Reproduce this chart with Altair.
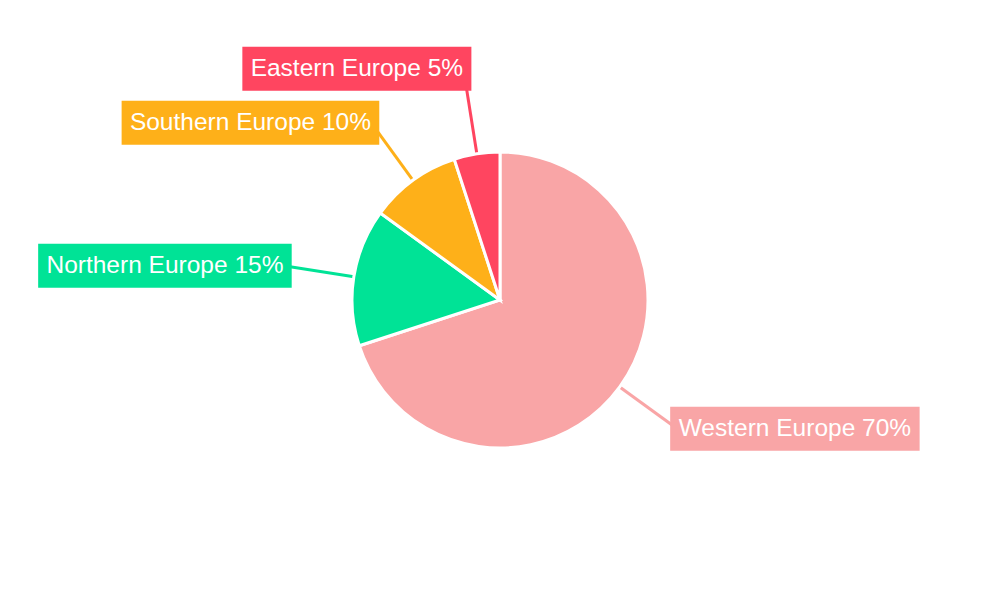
import math
import altair as alt
import pandas as pd

# ---- data ----
regions = ["Western Europe", "Northern Europe", "Southern Europe", "Eastern Europe"]
shares = [70, 15, 10, 5]
colors = ["#F9A5A6", "#00E396", "#FEB019", "#FF4560"]

# ---- layout constants (style, not data) ----
W, H = 984, 584
R = 148          # pie radius
R_LINE0 = 148    # leader line start
R_ANCHOR = 219   # leader line end / label anchor
FONT = 24.5
PADX, BOX_H = 8.3, 44
MIN_GAP = 54     # min vertical distance between label centres

# Arial / Liberation Sans advance widths (per 1000 em)
AW = {" ": 278, "%": 889, "E": 667, "W": 944, "N": 722, "S": 667,
      "a": 556, "s": 500, "t": 278, "e": 556, "r": 333, "n": 556,
      "u": 556, "o": 556, "p": 556, "h": 556}
def text_width(s):
    return sum(AW.get(c, 556) for c in s) * FONT / 1000.0

total = sum(shares)
rows = []
cum = 0
for name, v, col in zip(regions, shares, colors):
    mid = (cum + v / 2) / total * 2 * math.pi
    cum += v
    label = f"{name} {round(v / total * 100)}%"
    sx, cx = math.sin(mid), math.cos(mid)
    rows.append(dict(region=name, value=v, label=label, mid=mid,
                     side=1 if sx >= 0 else -1,
                     ax=R_ANCHOR * sx, ay=R_ANCHOR * cx,
                     lx0=R_LINE0 * sx, ly0=R_LINE0 * cx))

# simple vertical collision avoidance per side (push labels apart along their ray)
for side in (-1, 1):
    grp = [r for r in rows if r["side"] == side]
    grp.sort(key=lambda r: -r["ay"])  # top first (y up)
    for i in range(len(grp) - 2, -1, -1):
        lower = grp[i + 1]
        upper = grp[i]
        if upper["ay"] - lower["ay"] < MIN_GAP:
            newy = lower["ay"] + MIN_GAP
            t = newy / math.cos(upper["mid"])
            upper["ay"] = newy
            upper["ax"] = t * math.sin(upper["mid"])

for r in rows:
    tw = text_width(r["label"])
    if r["side"] < 0:
        r["bx2"] = r["ax"] + 8
        r["bx1"] = r["bx2"] - (tw + 2 * PADX)
    else:
        r["bx1"] = r["ax"] - 7
        r["bx2"] = r["bx1"] + (tw + 2 * PADX)
    r["by1"] = r["ay"] - BOX_H / 2
    r["by2"] = r["ay"] + BOX_H / 2
    r["tx"] = (r["bx1"] + r["bx2"]) / 2

df = pd.DataFrame(rows)
df["order"] = range(len(df))

xs = alt.Scale(domain=[-W / 2, W / 2], range=[0, W])
ys = alt.Scale(domain=[-H / 2, H / 2], range=[H, 0])
col_scale = alt.Scale(domain=regions, range=colors)

base = alt.Chart(df)

pie = base.mark_arc(radius=R, stroke="white", strokeWidth=3).encode(
    theta=alt.Theta("value:Q", stack=True),
    order=alt.Order("order:Q"),
    color=alt.Color("region:N", scale=col_scale, legend=None),
)

lines = base.mark_rule(strokeWidth=3).encode(
    x=alt.X("lx0:Q", scale=xs, axis=None),
    y=alt.Y("ly0:Q", scale=ys, axis=None),
    x2="ax:Q",
    y2="ay:Q",
    color=alt.Color("region:N", scale=col_scale, legend=None),
)

boxes = base.mark_rect().encode(
    x=alt.X("bx1:Q", scale=xs, axis=None),
    x2="bx2:Q",
    y=alt.Y("by1:Q", scale=ys, axis=None),
    y2="by2:Q",
    color=alt.Color("region:N", scale=col_scale, legend=None),
)

texts = base.mark_text(font="Liberation Sans", fontSize=FONT, color="white",
                       align="center", baseline="middle").encode(
    x=alt.X("tx:Q", scale=xs, axis=None),
    y=alt.Y("ay:Q", scale=ys, axis=None),
    text="label:N",
)

chart = alt.layer(lines, pie, boxes, texts).properties(
    width=W, height=H, autosize="none", padding=0
).configure_view(stroke=None)

chart.save("out.html", embed_options={"renderer": "svg", "actions": False})
